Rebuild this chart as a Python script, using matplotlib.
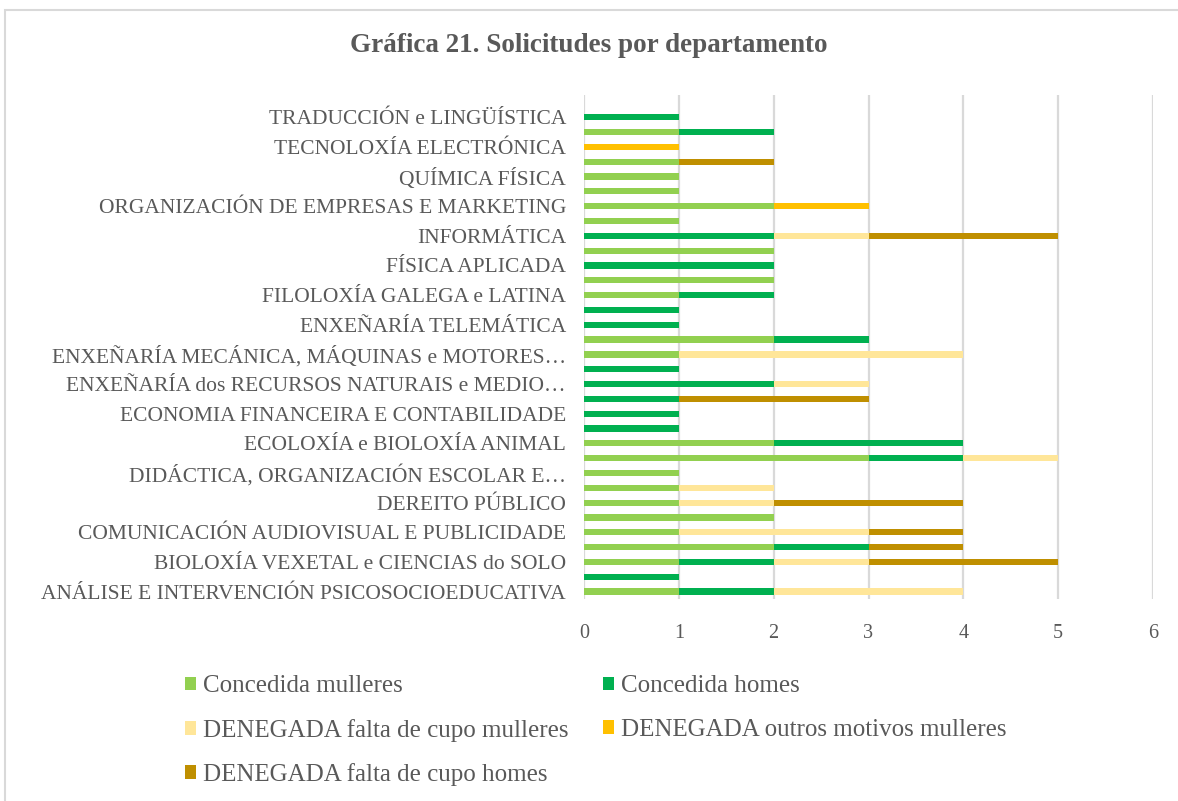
import numpy as np
import matplotlib
matplotlib.use("Agg")
import matplotlib.pyplot as plt
from matplotlib.patches import Rectangle

plt.rcParams['font.family'] = ['Liberation Serif', 'DejaVu Serif']

# categories bottom -> top; Excel only printed every other label
labels = [
    "ANÁLISE E INTERVENCIÓN PSICOSOCIOEDUCATIVA", "",
    "BIOLOXÍA VEXETAL e CIENCIAS do SOLO", "",
    "COMUNICACIÓN AUDIOVISUAL E PUBLICIDADE", "",
    "DEREITO PÚBLICO", "",
    "DIDÁCTICA, ORGANIZACIÓN ESCOLAR E…", "",
    "ECOLOXÍA e BIOLOXÍA ANIMAL", "",
    "ECONOMIA FINANCEIRA E CONTABILIDADE", "",
    "ENXEÑARÍA dos RECURSOS NATURAIS e MEDIO…", "",
    "ENXEÑARÍA MECÁNICA, MÁQUINAS e MOTORES…", "",
    "ENXEÑARÍA TELEMÁTICA", "",
    "FILOLOXÍA GALEGA e LATINA", "",
    "FÍSICA APLICADA", "",
    "INFORMÁTICA", "",
    "ORGANIZACIÓN DE EMPRESAS E MARKETING", "",
    "QUÍMICA FÍSICA", "",
    "TECNOLOXÍA ELECTRÓNICA", "",
    "TRADUCCIÓN e LINGÜÍSTICA",
]

concedida_mulleres = [1, 0, 1, 2, 1, 2, 1, 1, 1, 3, 2, 0, 0, 0, 0, 0, 1,
                      2, 0, 0, 1, 2, 0, 2, 0, 1, 2, 1, 1, 1, 0, 1, 0]
concedida_homes = [1, 1, 1, 1, 0, 0, 0, 0, 0, 1, 2, 1, 1, 1, 2, 1, 0,
                   1, 1, 1, 1, 0, 2, 0, 2, 0, 0, 0, 0, 0, 0, 1, 1]
den_cupo_mulleres = [2, 0, 1, 0, 2, 0, 1, 1, 0, 1, 0, 0, 0, 0, 1, 0, 3,
                     0, 0, 0, 0, 0, 0, 0, 1, 0, 0, 0, 0, 0, 0, 0, 0]
den_outros_mulleres = [0, 0, 0, 0, 0, 0, 0, 0, 0, 0, 0, 0, 0, 0, 0, 0, 0,
                       0, 0, 0, 0, 0, 0, 0, 0, 0, 1, 0, 0, 0, 1, 0, 0]
den_cupo_homes = [0, 0, 2, 1, 1, 0, 2, 0, 0, 0, 0, 0, 0, 2, 0, 0, 0,
                  0, 0, 0, 0, 0, 0, 0, 2, 0, 0, 0, 0, 1, 0, 0, 0]

series = [
    ("Concedida mulleres", concedida_mulleres, "#92D050"),
    ("Concedida homes", concedida_homes, "#00B050"),
    ("DENEGADA falta de cupo mulleres", den_cupo_mulleres, "#FFE699"),
    ("DENEGADA outros motivos mulleres", den_outros_mulleres, "#FFC000"),
    ("DENEGADA falta de cupo homes", den_cupo_homes, "#BF8F00"),
]

grey = "#595959"

fig = plt.figure(figsize=(11.78, 8.01), dpi=100)
ax = fig.add_axes([584 / 1178, 1 - 599 / 801, 569 / 1178, 504 / 801])

y = np.arange(len(labels))
left = np.zeros(len(labels))
handles = []
for name, vals, col in series:
    b = ax.barh(y, vals, left=left, height=0.42, color=col, label=name, zorder=3)
    handles.append(b)
    left += np.array(vals)

ax.set_xlim(0, 6)
ax.set_ylim(-0.5, 33.5)
ax.set_xticks(range(7))
ax.set_yticks(y)
ax.set_yticklabels(labels, fontsize=15.5, color=grey)
ax.tick_params(axis='x', labelsize=14.5, colors=grey, length=0, pad=18)
ax.tick_params(axis='y', length=0, pad=13)
ax.grid(axis='x', color='#D9D9D9', linewidth=1.6, zorder=0)
for s in ax.spines.values():
    s.set_visible(False)

fig.text(0.5, 1 - 46 / 801, "Gráfica 21. Solicitudes por departamento",
         ha='center', va='center', fontsize=19.5, fontweight='bold', color=grey)

order = [0, 2, 4, 1, 3]
fig.legend([handles[i] for i in order], [series[i][0] for i in order],
           ncol=2, loc='upper left', bbox_to_anchor=(162 / 1178, 1 - 653 / 801),
           frameon=False, fontsize=18, labelcolor=grey,
           handlelength=0.45, handleheight=0.45, handletextpad=0.3,
           columnspacing=1.35, labelspacing=0.85)

fig.add_artist(Rectangle((5 / 1178, -0.02), 1.02, 1 - 10 / 801 + 0.02,
                         transform=fig.transFigure, fill=False,
                         edgecolor='#D9D9D9', linewidth=1.5))

fig.savefig("out.png", dpi=100)
